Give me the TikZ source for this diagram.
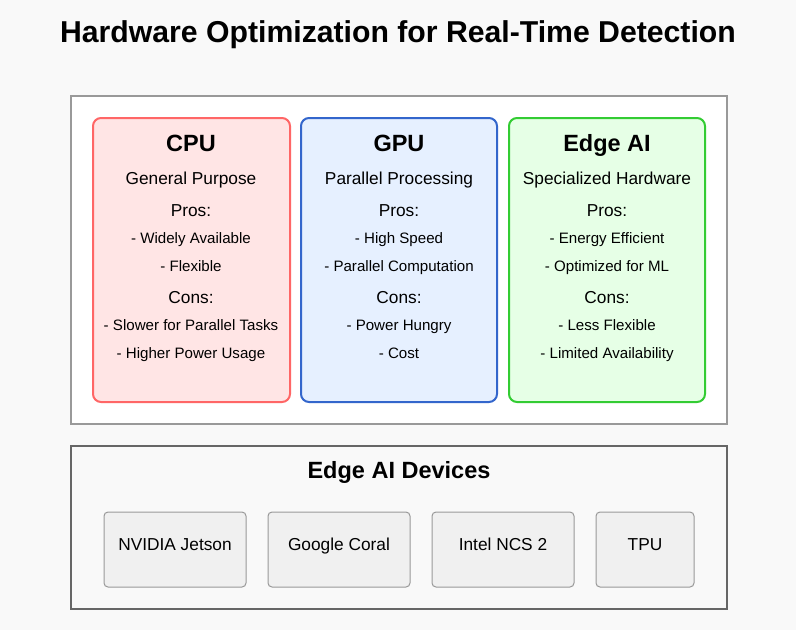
\documentclass[tikz,border=0pt]{standalone}
\usepackage{fontspec}
\setmainfont{Liberation Sans}
\begin{document}
\begin{tikzpicture}[x=1pt,y=-1pt,
  card/.style={draw,line width=2pt,rounded corners=8pt},
  dev/.style={draw=black!40,fill=black!6,line width=1pt,rounded corners=4pt,minimum width=#1,minimum height=75pt},
  dtx/.style={anchor=base,font=\fontsize{17.3}{19}\selectfont},
  ttl/.style={anchor=base,font=\fontsize{23.5}{25}\selectfont\bfseries},
  sub/.style={anchor=base,font=\fontsize{17.3}{19}\selectfont},
  itm/.style={anchor=base,font=\fontsize{15.1}{17}\selectfont}]
\definecolor{bg}{HTML}{F9F9F9}
\fill[bg] (0,0) rectangle (796,630);
\useasboundingbox (0,0) rectangle (796,630);
\node[anchor=base,font=\fontsize{30.2}{32}\selectfont\bfseries] (title) at (398,42) {Hardware Optimization for Real-Time Detection};
\draw[draw=black!40,fill=white,line width=2pt] (71,96) rectangle (727,424);
\draw[card,draw=red!60,fill=red!10] (93,118) rectangle (290,402);
\draw[card,draw={rgb,255:red,51;green,102;blue,204},fill={rgb,255:red,230;green,240;blue,255}] (301,118) rectangle (497,402);
\draw[card,draw={rgb,255:red,51;green,204;blue,51},fill={rgb,255:red,230;green,255;blue,230}] (509,118) rectangle (705,402);
\foreach \x/\t/\s/\a/\b/\c/\d/\n in {
  191/CPU/General Purpose/- Widely Available/- Flexible/- Slower for Parallel Tasks/- Higher Power Usage/c,
  399/GPU/Parallel Processing/- High Speed/- Parallel Computation/- Power Hungry/- Cost/g,
  607/Edge AI/Specialized Hardware/- Energy Efficient/- Optimized for ML/- Less Flexible/- Limited Availability/e}{
  \node[ttl] (\n t) at (\x,151) {\t};
  \node[sub] (\n s) at (\x,184) {\s};
  \node[sub] (\n p) at (\x,216) {Pros:};
  \node[itm] (\n a) at (\x,243) {\a};
  \node[itm] (\n b) at (\x,271) {\b};
  \node[sub] (\n k) at (\x,303) {Cons:};
  \node[itm] (\n c) at (\x,330) {\c};
  \node[itm] (\n d) at (\x,358) {\d};
}
\draw[draw=black!60,fill=bg,line width=2pt] (71,446) rectangle (727,609);
\node[ttl] (devt) at (399,478) {Edge AI Devices};
\node[dev=142pt] (d1) at (175,549.5) {};
\node[dev=142pt] (d2) at (339,549.5) {};
\node[dev=142pt] (d3) at (503,549.5) {};
\node[dev=98pt] (d4) at (645,549.5) {};
\node[dtx] at (175,550) {NVIDIA Jetson};
\node[dtx] at (339,550) {Google Coral};
\node[dtx] at (503,550) {Intel NCS 2};
\node[dtx] at (645,550) {TPU};
\end{tikzpicture}
\end{document}
